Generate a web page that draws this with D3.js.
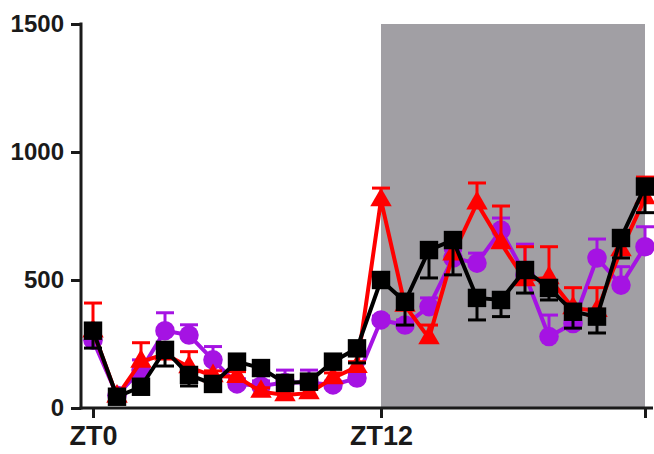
<!DOCTYPE html>
<html>
<head>
<meta charset="utf-8">
<script src="https://cdn.jsdelivr.net/npm/d3@7"></script>
<style>
html,body{margin:0;padding:0;background:#fff;}
svg{display:block;}
text{font-family:"Liberation Sans",Arial,sans-serif;font-weight:bold;fill:#1a1a1a;}
</style>
</head>
<body>
<svg id="chart" width="654" height="454"></svg>
<script>
const hours = d3.range(0, 24);
const xTickValues = [0, 12, 23];
const xTickLabels = ["ZT0", "ZT12", ""];
const yTickValues = [0, 500, 1000, 1500];
const darkStart = 12, darkEnd = 23;

const redValues   = [300, 45, 181, 210, 160, 125, 122, 64, 51, 58, 117, 161, 812, 400, 273, 600, 800, 644, 500, 508, 390, 380, 617, 820];
const redErr      = [110, 10, 74, 30, 60, 20, 20, 15, 15, 15, 20, 20, 47, 30, 51, 30, 79, 145, 130, 122, 80, 90, 40, 82];
const purpleValues= [265, 50, 148, 302, 285, 188, 94, 86, 100, 100, 90, 117, 344, 324, 396, 586, 566, 695, 520, 279, 330, 586, 480, 630];
const purpleErr   = [20, 10, 40, 70, 40, 52, 20, 20, 48, 48, 15, 15, 15, 20, 34, 30, 39, 47, 120, 84, 33, 74, 72, 78];
const blackValues = [302, 44, 83, 227, 129, 94, 181, 156, 98, 103, 181, 233, 500, 415, 617, 656, 430, 422, 539, 469, 376, 357, 664, 865];
const blackErr    = [68, 5, 10, 63, 43, 10, 15, 10, 15, 15, 10, 57, 26, 91, 109, 136, 86, 65, 90, 47, 64, 64, 78, 102];

const svg = d3.select("#chart");
const x = d3.scaleLinear().domain([0, 23]).range([93, 645]);
const y = d3.scaleLinear().domain([0, 1500]).range([408, 24]);

// dark phase
svg.append("rect")
  .attr("x", x(darkStart)).attr("y", y(1500))
  .attr("width", x(darkEnd) - x(darkStart))
  .attr("height", y(0) - y(1500))
  .attr("fill", "#a19fa4");

const series = [
  {vals: purpleValues, err: purpleErr, dir: 1, color: "#a513e3", shape: d3.symbolCircle, size: 300},
  {vals: redValues, err: redErr, dir: 1, color: "#ff0000", shape: d3.symbolTriangle, size: 200},
  {vals: blackValues, err: blackErr, dir: -1, color: "#000000", shape: d3.symbolSquare, size: 340}
];

series.forEach(s => {
  const g = svg.append("g");
  hours.forEach(h => {
    const v = s.vals[h], e = s.err[h];
    const yEnd = y(v + s.dir * e);
    g.append("line").attr("x1", x(h)).attr("x2", x(h))
      .attr("y1", y(v)).attr("y2", yEnd)
      .attr("stroke", s.color).attr("stroke-width", 3);
    g.append("line").attr("x1", x(h) - 9).attr("x2", x(h) + 9)
      .attr("y1", yEnd).attr("y2", yEnd)
      .attr("stroke", s.color).attr("stroke-width", 3);
  });
  g.append("path")
    .datum(hours)
    .attr("fill", "none").attr("stroke", s.color).attr("stroke-width", 4)
    .attr("stroke-linejoin", "miter")
    .attr("d", d3.line().x(h => x(h)).y(h => y(s.vals[h])));
  g.selectAll("path.m").data(hours).enter().append("path")
    .attr("class", "m")
    .attr("transform", h => `translate(${x(h)},${y(s.vals[h])})`)
    .attr("d", d3.symbol().type(s.shape).size(s.size))
    .attr("fill", s.color);
});

// axes
const yAxis = svg.append("g").attr("transform", "translate(81,0)")
  .call(d3.axisLeft(y).tickValues(yTickValues).tickSize(10).tickPadding(7).tickFormat(d3.format("d")));
const xAxis = svg.append("g").attr("transform", "translate(0,408)")
  .call(d3.axisBottom(x).tickValues(xTickValues).tickSize(10).tickPadding(8).tickFormat((d, i) => xTickLabels[i]));

[yAxis, xAxis].forEach(a => {
  a.select(".domain").remove();
  a.selectAll(".tick line").attr("stroke", "#1a1a1a").attr("stroke-width", 3);
  a.selectAll("text").attr("fill", "#1a1a1a")
    .attr("font-family", "'Liberation Sans', Arial, sans-serif").attr("font-weight", "bold");
});
yAxis.selectAll("text").attr("font-size", 24);
xAxis.selectAll("text").attr("font-size", 27);
svg.append("line").attr("x1", 81).attr("x2", 81).attr("y1", y(1500) - 1.5).attr("y2", 409.5)
  .attr("stroke", "#1a1a1a").attr("stroke-width", 3);
svg.append("line").attr("x1", 79.5).attr("x2", 653).attr("y1", 408).attr("y2", 408)
  .attr("stroke", "#1a1a1a").attr("stroke-width", 3);
</script>
</body>
</html>
